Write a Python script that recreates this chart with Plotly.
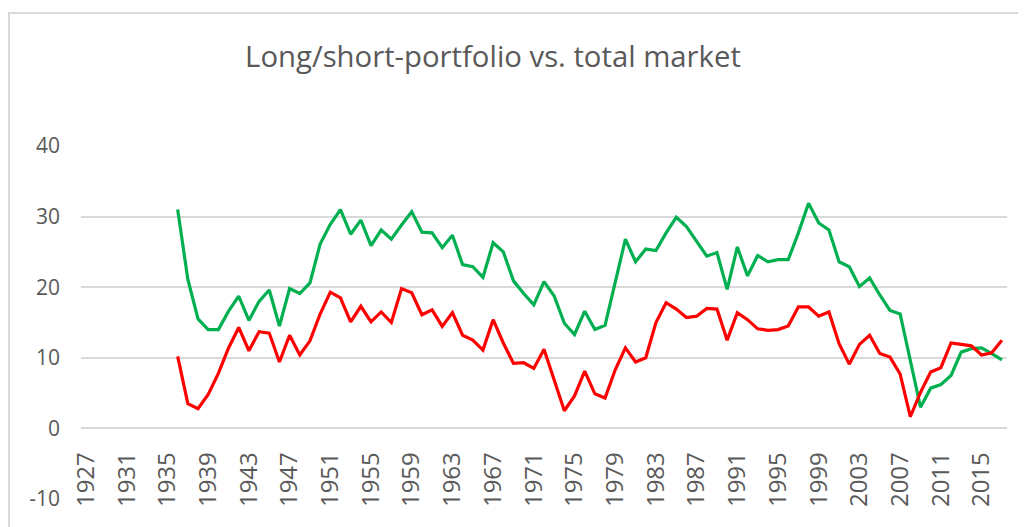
import plotly.graph_objects as go

years = list(range(1936, 2018))

total_market = [
    31.0, 21.1, 15.5, 14.0, 14.0, 16.6, 18.75, 15.3, 18.0, 19.6,
    14.5, 19.8, 19.1, 20.6, 26.1, 28.9, 31.0, 27.5, 29.5, 25.9,
    28.1, 26.8, 28.8, 30.7, 27.8, 27.7, 25.6, 27.35, 23.2, 22.9,
    21.4, 26.3, 25.0, 20.9, 19.1, 17.5, 20.8, 18.75, 14.9, 13.3,
    16.6, 14.0, 14.6, 20.6, 26.8, 23.6, 25.4, 25.2, 27.7, 29.9,
    28.6, 26.5, 24.4, 24.9, 19.7, 25.7, 21.6, 24.5, 23.6, 23.9,
    23.9, 27.7, 31.9, 29.1, 28.1, 23.6, 22.9, 20.1, 21.3, 18.9,
    16.7, 16.2, 9.8, 3.0, 5.7, 6.2, 7.5, 10.8, 11.3, 11.4,
    10.6, 9.7,
]

long_short = [
    10.2, 3.5, 2.8, 4.8, 7.8, 11.4, 14.3, 11.0, 13.7, 13.5,
    9.4, 13.2, 10.4, 12.4, 16.2, 19.3, 18.5, 15.1, 17.3, 15.1,
    16.5, 15.0, 19.8, 19.2, 16.1, 16.8, 14.45, 16.4, 13.2, 12.5,
    11.1, 15.4, 12.1, 9.2, 9.3, 8.5, 11.2, 6.7, 2.5, 4.6,
    8.1, 4.9, 4.3, 8.3, 11.4, 9.4, 10.0, 15.0, 17.8, 16.9,
    15.7, 15.9, 17.0, 16.9, 12.5, 16.4, 15.4, 14.1, 13.9, 14.0,
    14.5, 17.2, 17.2, 15.9, 16.5, 12.0, 9.1, 11.9, 13.2, 10.6,
    10.1, 7.7, 1.65, 5.1, 8.0, 8.6, 12.1, 11.9, 11.7, 10.4,
    10.7, 12.5,
]

tick_years = list(range(1927, 2018, 4))
y_ticks = [-10, 0, 10, 20, 30, 40]
y_ticktext = ["-10", "0", "10", "20", "30", "40"]

FONT = "Open Sans"
GREY = "#595959"
OFF = 8  # page body margin

fig = go.Figure()
fig.add_trace(go.Scatter(x=years, y=total_market, mode="lines", name="Total market",
                         line=dict(color="#00b050", width=3.2)))
fig.add_trace(go.Scatter(x=years, y=long_short, mode="lines", name="Long/short-portfolio",
                         line=dict(color="#ff0000", width=3.2)))

fig.update_layout(
    width=1026, height=527,
    margin=dict(l=81 - OFF, r=19 + OFF, t=146 - OFF, b=28 + OFF),
    paper_bgcolor="white", plot_bgcolor="white",
    showlegend=False,
    font=dict(family=FONT, color=GREY),
    title=dict(text="Long/short-portfolio vs. total market",
               x=(493 - OFF) / 1026, xanchor="center", xref="container",
               y=1 - (57 - OFF) / 527, yanchor="middle", yref="container",
               font=dict(family=FONT, size=29.3, color=GREY)),
    xaxis=dict(range=[1926.5, 2017.5], tickvals=tick_years,
               ticktext=[str(t) for t in tick_years],
               tickangle=-90, showgrid=False, zeroline=False, showline=False,
               anchor="free", position=0.2, ticks="", ticklabelstandoff=18,
               tickfont=dict(family=FONT, size=24, color=GREY)),
    yaxis=dict(range=[-10, 40], tickvals=y_ticks, ticktext=y_ticktext, showgrid=True,
               gridcolor="#d9d9d9", gridwidth=2, zeroline=False, showline=False,
               ticks="", ticklabelstandoff=20,
               tickfont=dict(family=FONT, size=21, color=GREY)),
    shapes=[dict(type="rect", xref="paper", yref="paper",
                 x0=(9 - 81) / 926, x1=1.2, y0=-0.3, y1=(499 - 13) / 353,
                 line=dict(color="#d9d9d9", width=2), layer="below")],
)

fig.write_html("out.html")
